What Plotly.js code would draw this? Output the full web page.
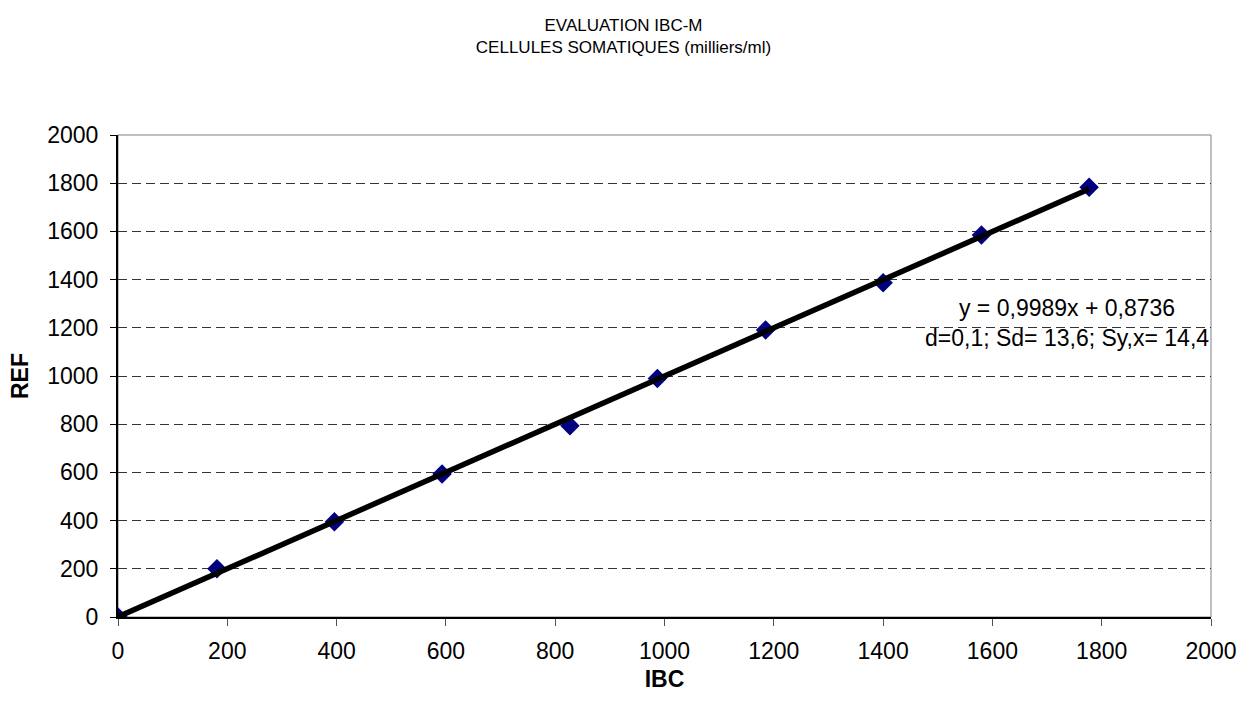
<!DOCTYPE html>
<html>
<head>
<meta charset="utf-8">
<script src="https://cdn.plot.ly/plotly-3.0.1.min.js"></script>
<style>html,body{margin:0;padding:0;background:#fff;}#chart{width:1247px;height:702px;}</style>
</head>
<body>
<div id="chart"></div>
<script>
// Data
var ibcValues = [0, 181, 396, 593, 827, 987, 1185, 1400, 1580, 1777];
var refValues = [0, 200, 395, 593, 794, 990, 1191, 1387, 1585, 1783];
// Regression line coefficients shown on the chart
var slope = 0.9989;
var intercept = 0.8736;
var tickValues = [0, 200, 400, 600, 800, 1000, 1200, 1400, 1600, 1800, 2000];
var titleLines = ["EVALUATION IBC-M", "CELLULES SOMATIQUES (milliers/ml)"];
var equationLines = ["y = 0,9989x + 0,8736", "d=0,1; Sd= 13,6; Sy,x= 14,4"];

var xMin = Math.min.apply(null, ibcValues);
var xMax = Math.max.apply(null, ibcValues);
var fitX = [xMin, xMax];
var fitY = fitX.map(function (x) { return slope * x + intercept; });

var font = "Liberation Sans, Arial, sans-serif";
var fs = 23;

var traces = [
  {
    x: ibcValues, y: refValues, type: "scatter", mode: "markers",
    marker: {symbol: "diamond", size: 15, color: "#000080", line: {width: 0}},
    hoverinfo: "x+y", showlegend: false
  },
  {
    x: fitX, y: fitY, type: "scatter", mode: "lines",
    line: {color: "#000000", width: 5.5},
    hoverinfo: "skip", showlegend: false
  }
];

var layout = {
  width: 1247, height: 702,
  margin: {l: 118, r: 36, t: 135, b: 85},
  paper_bgcolor: "#ffffff", plot_bgcolor: "#ffffff",
  font: {family: font, size: fs, color: "#000000"},
  title: {
    text: titleLines.join("<br>"),
    font: {family: font, size: 17, color: "#000000"},
    x: 0.5, xanchor: "center", xref: "container",
    y: 1 - 31 / 702, yanchor: "middle", yref: "container"
  },
  xaxis: {
    range: [0, 2000], tickvals: tickValues, ticktext: tickValues.map(String),
    showgrid: false, zeroline: false,
    showline: true, linecolor: "#000000", linewidth: 2,
    ticks: "outside", ticklen: 7, tickcolor: "#555555", tickwidth: 1,
    ticklabelstandoff: 5,
    tickfont: {family: font, size: fs, color: "#000000"},
    title: {text: "<b>IBC</b>", font: {family: font, size: fs, color: "#000000"}, standoff: 8}
  },
  yaxis: {
    range: [0, 2000], tickvals: tickValues, ticktext: tickValues.map(String),
    showgrid: true, gridcolor: "#333333", gridwidth: 1, griddash: "9px,5px",
    zeroline: false,
    showline: true, linecolor: "#000000", linewidth: 2,
    ticks: "outside", ticklen: 6, tickcolor: "#000000", tickwidth: 1,
    ticklabelstandoff: 7,
    tickfont: {family: font, size: fs, color: "#000000"},
    title: {text: "<b>REF</b>", font: {family: font, size: fs, color: "#000000"}, standoff: 12}
  },
  shapes: [
    {type: "rect", xref: "paper", yref: "paper", x0: 0, x1: 1, y0: 0, y1: 1,
     line: {color: "#808080", width: 1}, layer: "below"}
  ],
  annotations: [
    {
      xref: "x", yref: "y", x: 1737, y: 1220, xanchor: "center", yanchor: "middle",
      text: equationLines.join("<br>"), showarrow: false, align: "center",
      font: {family: font, size: fs, color: "#000000"}
    }
  ]
};

Plotly.newPlot("chart", traces, layout, {displayModeBar: false, staticPlot: true});
</script>
</body>
</html>
